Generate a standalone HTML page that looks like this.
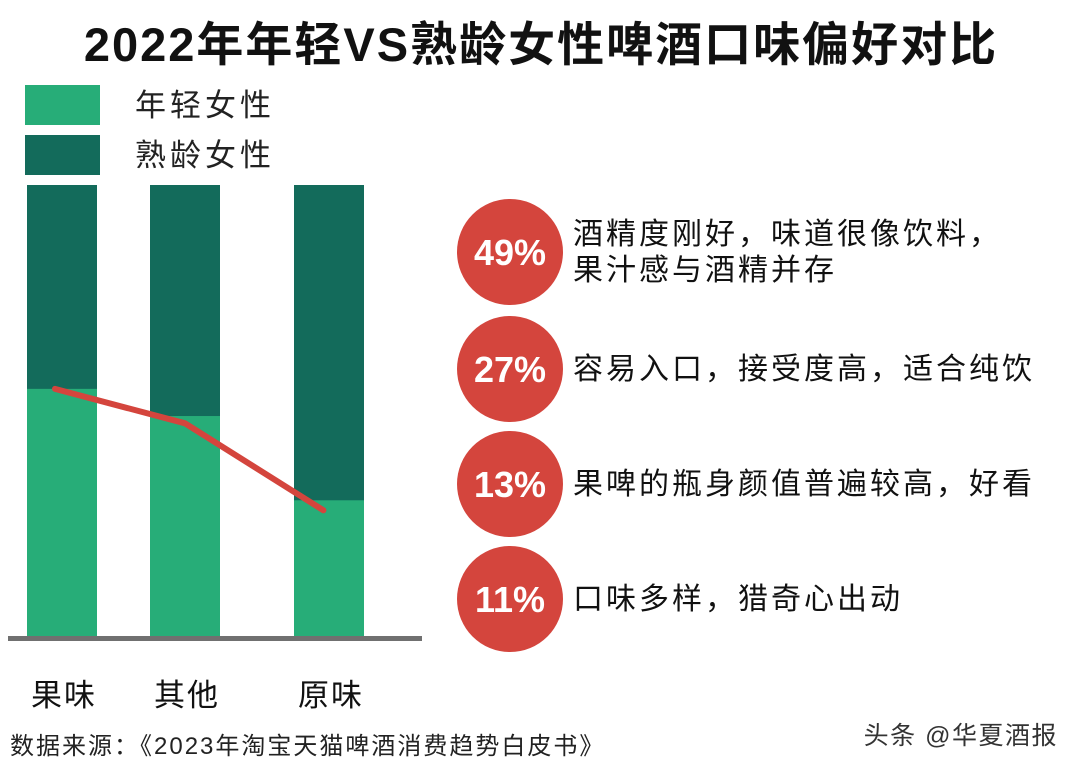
<!DOCTYPE html>
<html><head><meta charset="utf-8"><style>
body{margin:0;background:#fff;}
svg text{font-family:"Liberation Sans","Noto Sans CJK SC",sans-serif;}
</style></head><body>
<svg width="1080" height="769" viewBox="0 0 1080 769" xmlns="http://www.w3.org/2000/svg">
<rect width="1080" height="769" fill="#fff"/>
<text x="541" y="61" text-anchor="middle" font-size="47" font-weight="bold" letter-spacing="2" fill="#111">2022年年轻VS熟龄女性啤酒口味偏好对比</text>
<rect x="25" y="85" width="75" height="40" fill="#27ad78"/>
<text x="135" y="116" font-size="31" letter-spacing="4" fill="#222">年轻女性</text>
<rect x="25" y="135" width="75" height="40" fill="#136b5b"/>
<text x="135" y="166" font-size="31" letter-spacing="4" fill="#222">熟龄女性</text>
<g id="bars"></g>
<rect x="8" y="636" width="414" height="5" fill="#707070"/>
<g id="line"></g>
<g id="labels"></g>
<g id="reasons"></g>
<text x="10" y="754" font-size="24" letter-spacing="2" fill="#222">数据来源：《2023年淘宝天猫啤酒消费趋势白皮书》</text>
<text x="1058" y="744" text-anchor="end" font-size="25" letter-spacing="1.5" fill="#333">头条 @华夏酒报</text>
</svg>
<script>
const categories=["果味","其他","原味"];
const youngShare=[55,49,30.4];
const lineValues=[55,47.4,28.2];
const reasonPcts=["49%","27%","13%","11%"];
const reasonLines=[["酒精度刚好，味道很像饮料，","果汁感与酒精并存"],["容易入口，接受度高，适合纯饮"],["果啤的瓶身颜值普遍较高，好看"],["口味多样，猎奇心出动"]];
const NS="http://www.w3.org/2000/svg";
const y0=638,y1=185;
const yS=v=>y0-(y0-y1)*v/100;
const bandLeft=[27,150,294];
const barX=i=>bandLeft[i];
const bw=70;
function mk(t,a,p){const e=document.createElementNS(NS,t);for(const k in a)e.setAttribute(k,a[k]);p.appendChild(e);return e;}
const gb=document.getElementById('bars'),gl=document.getElementById('line'),gt=document.getElementById('labels'),gr=document.getElementById('reasons');
categories.forEach((c,i)=>{
 const d=mk('rect',{x:barX(i),y:y1,width:bw,height:y0-y1,fill:'#136b5b'},gb);
 
 
 const l=mk('rect',{x:barX(i),y:yS(youngShare[i]),width:bw,height:y0-yS(youngShare[i]),fill:'#27ad78'},gb);
 
 
 const t=mk('text',{x:barX(i)+bw/2+2,y:706,'text-anchor':'middle','font-size':31,'letter-spacing':2,fill:'#111'},gt);
 t.textContent=c;
 
 
});
const lx=[0.4,0.5,0.42];
const pts=lineValues.map((v,i)=>(barX(i)+bw*lx[i]).toFixed(1)+','+yS(v).toFixed(1)).join(' ');
const pl=mk('polyline',{points:pts,fill:'none',stroke:'#d4453d','stroke-width':6,'stroke-linecap':'round','stroke-linejoin':'round'},gl);


const cys=[252,369,484,599];
reasonPcts.forEach((p,i)=>{
 const c=mk('circle',{cx:510,cy:cys[i],r:53,fill:'#d4453d'},gr);
 
 
 const t=mk('text',{x:510,y:cys[i]+13,'text-anchor':'middle','font-size':36,'font-weight':'bold',fill:'#fff'},gr);
 t.textContent=p;
 
 
 const ls=reasonLines[i];
 ls.forEach((s,j)=>{
  const y=cys[i]+10+(j-(ls.length-1)/2)*36;
  const tt=mk('text',{x:573,y:y,'font-size':30,'letter-spacing':3,fill:'#111'},gr);
  tt.textContent=s;
  
  
 });
});
</script>
</body></html>
